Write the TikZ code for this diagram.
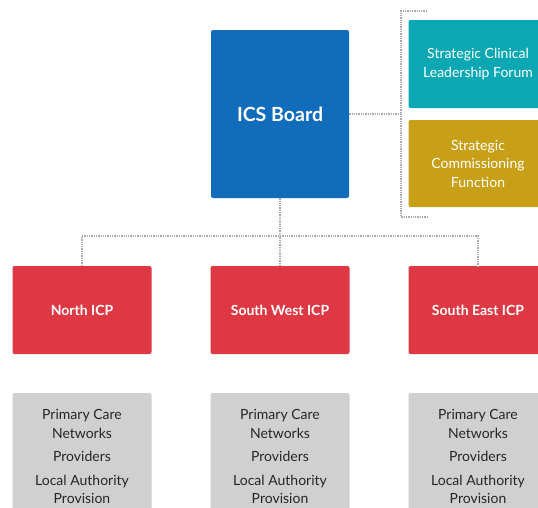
\documentclass[tikz,border=0pt]{standalone}
\usepackage{fontspec}
\setmainfont{Lato}
\usetikzlibrary{positioning,calc}
\definecolor{icsblue}{RGB}{17,108,187}
\definecolor{forumteal}{RGB}{11,167,178}
\definecolor{commgold}{RGB}{200,160,24}
\definecolor{icpred}{RGB}{221,56,68}
\definecolor{panelgrey}{RGB}{208,208,208}
\definecolor{linkgrey}{RGB}{170,170,170}

\begin{document}
\begin{tikzpicture}[x=1pt,y=-1pt,
        box/.style={rounded corners=2pt, align=center, inner sep=0pt,
            minimum width=139pt, text=white},
        small/.style={font=\fontsize{14}{18.5}\selectfont},
        link/.style={draw=linkgrey, densely dotted, line width=1.3pt}]
    \clip (0,0) rectangle (538,507);
    % board and the two strategic groups
    \node[box, fill=icsblue, minimum width=138pt, minimum height=168pt,
        font=\bfseries\fontsize{19.5}{23}\selectfont] (ics) at (280,114) {ICS Board};
    \node[box, small, fill=forumteal, minimum height=88pt] (forum) at (478,64)
        {Strategic Clinical\\Leadership Forum};
    \node[box, small, fill=commgold, minimum height=87pt] (comm) at (478,163.5)
        {Strategic\\Commissioning\\Function};
    % the three ICPs
    \foreach \x/\nm/\txt in {82/north/North ICP, 280/sw/South West ICP, 478/se/South East ICP}{
        \node[box, fill=icpred, minimum height=88pt,
            font=\bfseries\fontsize{14}{17}\selectfont] (\nm) at (\x,310) {\txt};
        \node[box, small, fill=panelgrey, text=black!85, minimum height=127pt]
            (\nm list) at (\x,456.5)
            {Primary Care\\Networks\\[5pt]Providers\\[5pt]Local Authority\\Provision};
    }
    % dotted links
    \coordinate (brtop) at (401,11);
    \coordinate (brbot) at (401,217);
    \coordinate (split) at (280,236);
    \draw[link] (ics.east) -- (ics.east -| brtop);
    \draw[link] ($(brtop)+(26,0)$) -- (brtop) -- (brbot) -- ++(26,0);
    \draw[link] (ics.south) -- (sw.north);
    \draw[link] (north.north) |- (split) -| (se.north);
\end{tikzpicture}
\end{document}
